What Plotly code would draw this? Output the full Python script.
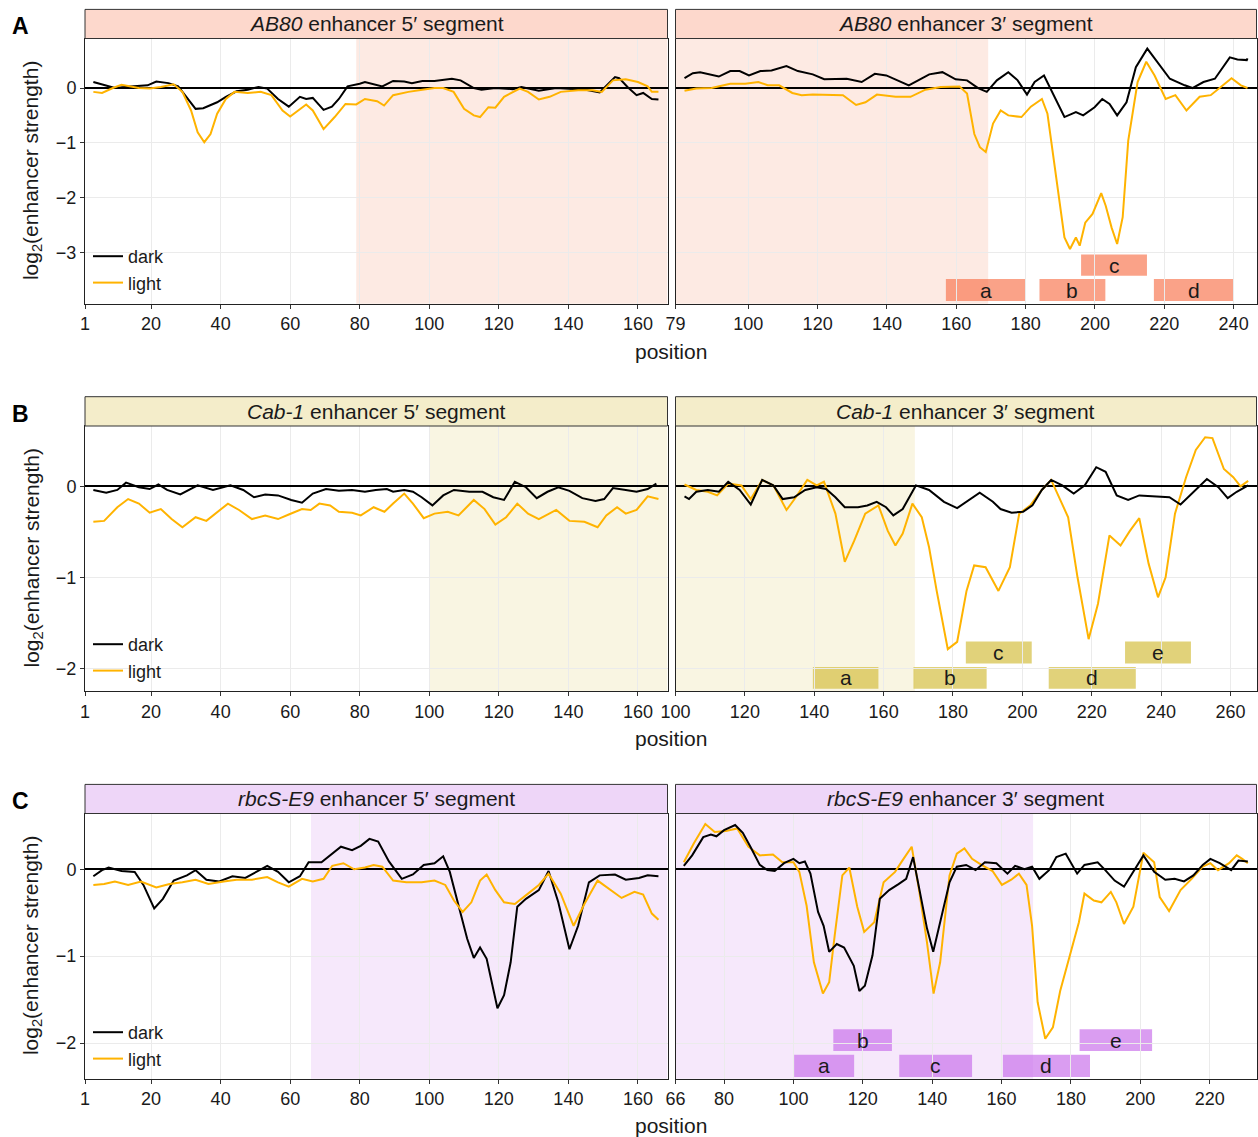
import plotly.graph_objects as go

FONT = "Liberation Sans, Arial, Helvetica, sans-serif"

# ---------------- DATA ----------------
# Panel A : AB80 enhancer
A5_dark_x = [3.4, 9.6, 14, 19, 21.5, 25, 27.8, 30, 32.8, 35, 39, 41.5, 44.6, 47.8, 50.9, 53.4, 56.5, 59.6, 62.8, 64.6, 66.5, 69.6, 72, 74, 76.5, 80, 81.5, 86.5, 89.6, 92.8, 95, 98, 101.5, 106.5, 109, 112.8, 115, 119, 124, 126.5, 131.5, 136.5, 141.5, 145, 149, 151.5, 153.4, 154.6, 157, 159.6, 161.5, 164, 165.9]
A5_dark_y = [0.11, 0.0, 0.03, 0.05, 0.12, 0.09, 0.03, -0.16, -0.38, -0.37, -0.26, -0.16, -0.06, -0.03, 0.02, -0.01, -0.2, -0.34, -0.16, -0.2, -0.18, -0.40, -0.34, -0.2, 0.03, 0.08, 0.11, 0.03, 0.13, 0.12, 0.09, 0.13, 0.13, 0.17, 0.14, 0.0, -0.03, 0.0, -0.02, 0.02, -0.05, 0.0, -0.02, -0.03, -0.08, 0.08, 0.2, 0.18, 0.02, -0.13, -0.09, -0.2, -0.21]
A5_light_x = [3.4, 5.9, 9, 11.5, 16.5, 19.6, 22.8, 26.5, 29, 31.5, 33.4, 35.3, 37.1, 39, 41.5, 44, 47.8, 51.5, 54.6, 57.8, 60, 62.8, 64.6, 66.5, 69.6, 72.8, 75.9, 79, 81.5, 85, 87, 89.6, 94, 98, 101.5, 104, 107, 110, 112.8, 114.6, 117, 119, 121.5, 126, 128.4, 131.5, 134.6, 137.8, 142.8, 147, 149.6, 152.8, 156.5, 160, 162.8, 164, 165.9]
A5_light_y = [-0.07, -0.09, 0.0, 0.06, 0.0, -0.01, 0.02, 0.07, -0.07, -0.41, -0.81, -0.99, -0.84, -0.47, -0.2, -0.07, -0.09, -0.07, -0.13, -0.41, -0.52, -0.38, -0.30, -0.41, -0.75, -0.53, -0.29, -0.3, -0.2, -0.24, -0.32, -0.13, -0.07, -0.03, 0.0, 0.0, -0.07, -0.38, -0.5, -0.53, -0.35, -0.36, -0.16, -0.01, -0.07, -0.21, -0.16, -0.07, -0.04, -0.04, -0.07, 0.14, 0.16, 0.11, 0.03, -0.07, -0.07]
A3_dark_x = [81.6, 84, 86.1, 88.3, 91.5, 94.8, 97.5, 100.2, 103.5, 106.7, 111, 114.3, 118.6, 121.9, 125.1, 128.4, 132.7, 136.5, 139.8, 142.5, 146.3, 149, 152.2, 156, 159.8, 163.1, 166.3, 168.8, 171.7, 175, 177.7, 180.4, 182.6, 185.3, 188, 191.2, 194.5, 196.6, 199.9, 202.1, 204.2, 206.4, 209.1, 211.8, 215.1, 218.3, 221.6, 225.9, 228.1, 231.3, 234.6, 238.9, 241.1, 243.8, 244]
A3_dark_y = [0.18, 0.27, 0.29, 0.26, 0.21, 0.31, 0.31, 0.23, 0.31, 0.32, 0.40, 0.31, 0.25, 0.16, 0.17, 0.17, 0.11, 0.26, 0.23, 0.15, 0.05, 0.14, 0.25, 0.29, 0.16, 0.14, 0.0, -0.07, 0.14, 0.29, 0.14, -0.12, 0.11, 0.23, -0.13, -0.53, -0.44, -0.5, -0.35, -0.2, -0.29, -0.5, -0.26, 0.38, 0.72, 0.45, 0.17, 0.05, 0.0, 0.11, 0.17, 0.56, 0.52, 0.51, 0.54]
A3_light_x = [81.6, 85, 89.4, 94.8, 99.1, 102.9, 105.6, 108.9, 112.7, 115.4, 118.6, 123, 127.3, 131.1, 133.8, 137.1, 142.5, 146.8, 151.1, 155.5, 160.9, 163.1, 165.2, 166.8, 168.5, 170.6, 172.8, 175, 178.8, 181.5, 184.7, 186.3, 188, 189.6, 191.2, 192.8, 194.5, 195.6, 197.2, 199.3, 201.8, 203.1, 204.8, 206.4, 208, 209.6, 212.3, 214.8, 217.2, 220.4, 223.2, 226.4, 230.2, 233.4, 236.7, 239.4, 242.1, 244]
A3_light_y = [-0.05, -0.01, 0.0, 0.08, 0.08, 0.11, 0.05, 0.05, -0.09, -0.13, -0.12, -0.13, -0.13, -0.31, -0.26, -0.12, -0.16, -0.16, -0.03, 0.02, 0.03, -0.1, -0.84, -1.08, -1.17, -0.65, -0.41, -0.5, -0.53, -0.34, -0.2, -0.47, -1.26, -2.06, -2.73, -2.94, -2.73, -2.88, -2.46, -2.3, -1.92, -2.15, -2.55, -2.85, -2.36, -0.96, 0.11, 0.48, 0.23, -0.2, -0.13, -0.41, -0.16, -0.13, 0.05, 0.18, 0.05, 0.0]
A_box_labels = ["a", "b", "c", "d"]
A_box_start = [157, 184, 196, 217]
A_box_end = [180, 203, 215, 240]
A_box_row = [0, 0, 1, 0]

# Panel B : Cab-1 enhancer
B5_dark_x = [3.4, 7.1, 10.3, 12.8, 16.5, 19.6, 22.1, 24.6, 28.4, 31.5, 33.4, 37.8, 42.8, 46.5, 49.6, 52.8, 56.5, 60.3, 63.4, 66.5, 70.3, 74, 77.8, 81.5, 84.6, 87.8, 89.6, 92.8, 95.3, 97.8, 100.9, 104, 107.1, 111.5, 115.3, 118.4, 121.5, 124.6, 127.8, 130.9, 134, 137.1, 140.3, 144, 147.8, 150.3, 152.8, 156.5, 159.6, 162.8, 165.3]
B5_dark_y = [-0.04, -0.07, -0.04, 0.04, -0.01, -0.03, 0.02, -0.04, -0.09, -0.03, 0.01, -0.04, 0.01, -0.04, -0.12, -0.09, -0.1, -0.15, -0.18, -0.08, -0.03, -0.05, -0.04, -0.06, -0.04, -0.03, -0.06, -0.04, -0.06, -0.12, -0.21, -0.1, -0.04, -0.06, -0.06, -0.12, -0.15, 0.05, -0.01, -0.13, -0.06, -0.01, -0.05, -0.13, -0.16, -0.14, -0.02, -0.04, -0.06, -0.03, 0.03]
B5_light_x = [3.4, 6.5, 10.3, 13.4, 16.5, 19.6, 22.8, 25.9, 29, 32.8, 35.9, 39, 42.1, 45.3, 49, 52.8, 56.5, 59.6, 63.4, 65.9, 68.4, 71.5, 74, 77.8, 80.3, 84, 87.1, 89.6, 92.8, 95.3, 98.4, 101.5, 105.3, 108.4, 112.8, 115.9, 119, 122.1, 125.3, 128.4, 131.5, 136.5, 140.3, 144.6, 148.4, 150.9, 154, 156.5, 159.6, 162.8, 165.9]
B5_light_y = [-0.39, -0.38, -0.23, -0.14, -0.19, -0.29, -0.25, -0.36, -0.45, -0.34, -0.38, -0.28, -0.19, -0.26, -0.36, -0.32, -0.36, -0.31, -0.25, -0.26, -0.19, -0.21, -0.28, -0.29, -0.32, -0.23, -0.28, -0.19, -0.08, -0.19, -0.35, -0.3, -0.28, -0.32, -0.15, -0.25, -0.42, -0.34, -0.19, -0.3, -0.36, -0.26, -0.38, -0.39, -0.45, -0.32, -0.23, -0.3, -0.26, -0.11, -0.14]
B3_dark_x = [102.6, 103.9, 106, 109.3, 112.5, 115.2, 118.5, 121.7, 125, 128.2, 130.9, 134.2, 137.4, 140.7, 143.4, 146.1, 148.8, 152.6, 155.3, 158, 160.7, 162.8, 165.5, 169.3, 173.1, 177.4, 181.2, 184.5, 187.7, 191.5, 193.7, 196.9, 200.2, 202.9, 205.6, 208.3, 211.5, 214.8, 218, 221.3, 224, 227.2, 230.5, 233.7, 238, 242.4, 245.6, 248.9, 253.2, 256.5, 259.2, 261.8, 265.1]
B3_dark_y = [-0.11, -0.14, -0.06, -0.04, -0.06, 0.05, -0.04, -0.2, 0.07, 0.01, -0.14, -0.12, -0.04, -0.01, -0.03, -0.12, -0.23, -0.23, -0.21, -0.17, -0.23, -0.32, -0.25, 0.01, -0.04, -0.17, -0.24, -0.15, -0.07, -0.17, -0.25, -0.29, -0.28, -0.21, -0.04, 0.07, 0.01, -0.08, 0.01, 0.21, 0.16, -0.1, -0.15, -0.1, -0.11, -0.12, -0.2, -0.08, 0.08, -0.01, -0.13, -0.06, 0.01]
B3_light_x = [102.6, 106, 109.3, 112, 115.2, 119, 121.7, 125, 128.2, 132, 134.7, 138, 140.7, 142.8, 146.1, 148.8, 151.5, 154.7, 158.5, 161.2, 163.4, 165.5, 168.3, 171, 173.1, 175.3, 178.5, 181.2, 183.9, 186.1, 189.4, 193.1, 196.4, 199.1, 202.3, 205.6, 208.3, 211, 213.2, 215.9, 219.1, 221.8, 225.1, 228.3, 231, 233.7, 236.4, 239.1, 241.3, 244, 247.2, 250, 252.7, 254.8, 258.1, 260.8, 262.9, 265.1]
B3_light_y = [0.02, -0.04, -0.06, -0.1, 0.03, 0.01, -0.14, 0.07, 0.01, -0.26, -0.12, 0.07, 0.01, 0.05, -0.3, -0.83, -0.6, -0.3, -0.21, -0.49, -0.65, -0.52, -0.19, -0.34, -0.67, -1.15, -1.79, -1.71, -1.15, -0.87, -0.89, -1.15, -0.89, -0.3, -0.21, -0.04, 0.07, -0.15, -0.34, -1.0, -1.68, -1.29, -0.54, -0.65, -0.49, -0.35, -0.85, -1.22, -1.0, -0.3, 0.10, 0.4, 0.54, 0.53, 0.19, 0.10, 0.0, 0.06]
B_box_labels = ["a", "b", "c", "d", "e"]
B_box_start = [139.6, 168.6, 183.7, 207.6, 229.6]
B_box_end = [158.5, 189.7, 202.7, 232.7, 248.6]
B_box_row = [0, 0, 1, 0, 1]

# Panel C : rbcS-E9 enhancer
C5_dark_x = [3.4, 5.9, 7.8, 11.5, 15.3, 17.8, 20.9, 23.4, 26.5, 30.3, 32.8, 35.9, 39.6, 43.4, 47.1, 50.9, 53.4, 56.5, 59.6, 62.8, 65.3, 69, 71.5, 74.6, 77.8, 80.3, 82.8, 85.3, 88.4, 92.1, 95.3, 98.4, 101.5, 104, 105.9, 108.4, 110.9, 112.8, 114.6, 116.5, 118.4, 119.6, 121.5, 123.4, 125.3, 127.8, 131.5, 134.3, 137.1, 140.3, 142.8, 145.9, 149, 153.4, 156.5, 160.3, 162.8, 165.9]
C5_dark_y = [-0.08, -0.01, 0.02, -0.02, -0.03, -0.18, -0.45, -0.34, -0.13, -0.07, -0.01, -0.12, -0.14, -0.08, -0.1, -0.01, 0.04, -0.03, -0.15, -0.08, 0.08, 0.08, 0.16, 0.26, 0.22, 0.27, 0.35, 0.32, 0.09, -0.11, -0.06, 0.05, 0.07, 0.15, -0.03, -0.43, -0.8, -1.02, -0.9, -1.03, -1.38, -1.6, -1.45, -1.07, -0.43, -0.34, -0.24, -0.02, -0.38, -0.92, -0.65, -0.15, -0.07, -0.06, -0.12, -0.1, -0.07, -0.08]
C5_light_x = [3.4, 6.5, 9.6, 13.4, 17.1, 21.5, 25.3, 29, 32.8, 36.5, 40.9, 44.6, 49, 53.4, 56.5, 59.6, 63.4, 66.5, 69.6, 72.1, 75.3, 78.4, 81.5, 84, 86.5, 89.6, 93.4, 97.8, 101.5, 104.6, 107.1, 109.6, 112.1, 114.6, 116.5, 119, 121.5, 124.6, 128.4, 131.5, 134.3, 137.8, 141.5, 144.6, 148.4, 152.1, 155.3, 159, 161.5, 164, 165.9]
C5_light_y = [-0.18, -0.17, -0.14, -0.18, -0.14, -0.21, -0.17, -0.15, -0.12, -0.17, -0.14, -0.12, -0.12, -0.09, -0.15, -0.2, -0.11, -0.14, -0.11, 0.04, 0.07, 0.0, 0.02, 0.05, 0.03, -0.13, -0.15, -0.15, -0.13, -0.18, -0.36, -0.49, -0.38, -0.13, -0.06, -0.24, -0.38, -0.4, -0.28, -0.18, -0.05, -0.28, -0.65, -0.4, -0.13, -0.24, -0.33, -0.26, -0.29, -0.51, -0.58]
C3_dark_x = [68.4, 70.8, 74, 76.2, 77.8, 80, 83.2, 85.4, 87.6, 90.3, 92.5, 94.6, 97.3, 100, 101.7, 103.3, 104.9, 107.1, 108.7, 110.3, 112.5, 114.6, 117.4, 119, 120.6, 122.8, 124.9, 127.6, 130.3, 132.5, 134.5, 136.3, 138.5, 140.3, 142.3, 145, 147.1, 149.8, 152.5, 155.2, 158.5, 161.7, 163.9, 166.6, 168.8, 170.9, 173.7, 175.8, 178.5, 181.8, 183.9, 187.7, 189.9, 192.6, 195.3, 198, 200.9, 204, 207.2, 209.9, 212.6, 215.3, 218, 220.2, 222.9, 226.2, 228.3, 231]
C3_dark_y = [0.04, 0.16, 0.37, 0.4, 0.38, 0.45, 0.51, 0.42, 0.26, 0.05, -0.01, -0.02, 0.07, 0.12, 0.07, 0.09, -0.05, -0.49, -0.65, -0.95, -0.86, -0.9, -1.11, -1.4, -1.34, -0.99, -0.34, -0.24, -0.17, -0.11, 0.14, -0.22, -0.68, -0.95, -0.61, -0.15, 0.03, 0.05, -0.01, 0.08, 0.07, -0.05, 0.04, 0.0, 0.03, -0.11, -0.01, 0.14, 0.18, -0.05, 0.05, 0.08, -0.01, -0.13, -0.2, -0.03, 0.16, -0.03, -0.12, -0.11, -0.14, -0.07, 0.05, 0.12, 0.07, -0.01, 0.1, 0.09]
C3_light_x = [68.4, 71.3, 74.6, 77.3, 80.5, 83.8, 87, 90.3, 94.1, 96.8, 100, 101.7, 103.8, 105.9, 108.5, 110.3, 111.9, 114.1, 116.1, 118.4, 120.4, 123.3, 126, 129.3, 131.4, 134.1, 136.3, 138.5, 140.4, 142.3, 145, 147.1, 149.3, 151.5, 154.2, 157.4, 160.1, 162.8, 165, 167.2, 168.8, 170.4, 172.6, 174.8, 176.9, 179.1, 180.7, 182.3, 183.9, 186.6, 188.8, 191.5, 193.1, 195.3, 198, 200.9, 204, 205.6, 208.3, 211.6, 214.8, 218, 220.2, 222.4, 225.6, 227.8, 229.4, 231]
C3_light_y = [0.08, 0.3, 0.52, 0.43, 0.44, 0.47, 0.26, 0.16, 0.17, 0.08, 0.08, -0.03, -0.42, -1.07, -1.43, -1.3, -0.76, -0.07, 0.02, -0.43, -0.72, -0.61, -0.15, -0.03, 0.1, 0.26, -0.26, -0.84, -1.43, -1.07, -0.07, 0.18, 0.24, 0.12, 0.05, -0.02, -0.18, -0.12, -0.05, -0.18, -0.65, -1.53, -1.95, -1.82, -1.4, -1.07, -0.84, -0.61, -0.28, -0.36, -0.38, -0.26, -0.38, -0.63, -0.43, 0.19, 0.08, -0.32, -0.48, -0.24, -0.11, 0.03, 0.07, -0.01, 0.07, 0.16, 0.12, 0.07]
C_box_labels = ["a", "b", "c", "d", "e"]
C_box_start = [100.2, 111.5, 130.5, 160.4, 182.5]
C_box_end = [117.5, 128.4, 151.5, 185.5, 203.4]
C_box_row = [0, 1, 0, 0, 1]

# Axis ticks
left_ticks = [1, 20, 40, 60, 80, 100, 120, 140, 160]
A3_ticks = [79, 100, 120, 140, 160, 180, 200, 220, 240]
B3_ticks = [100, 120, 140, 160, 180, 200, 220, 240, 260]
C3_ticks = [66, 80, 100, 120, 140, 160, 180, 200, 220]
A_yticks = [0, -1, -2, -3]
B_yticks = [0, -1, -2]
C_yticks = [0, -1, -2]

# ---------------- STYLE / LAYOUT ----------------
W, H = 1258, 1137
DARK = "#000000"
LIGHT = "#FFB300"
TXT = "#1a1a1a"


def px_x(p):
    return p / W


def px_y(p):
    return 1 - p / H


XL = [px_x(85), px_x(667.5)]
XR = [px_x(675.5), px_x(1256.5)]

panels = [
    dict(name="A", gene="AB80", top=38.5, bot=303.7, htop=9.4, yr=[-3.94, 0.905], ytk=A_yticks,
         r5=[1, 168.5], r3=[79, 246.6], t3=A3_ticks, sh5=[79, 168.5], sh3=[79, 169.2],
         head="#FDD8CC", shade="#FDEAE3", box="rgba(247,118,80,0.68)",
         d5=(A5_dark_x, A5_dark_y), l5=(A5_light_x, A5_light_y),
         d3=(A3_dark_x, A3_dark_y), l3=(A3_light_x, A3_light_y),
         bl=A_box_labels, bs=A_box_start, be=A_box_end, brow=A_box_row,
         rows=[(-3.89, -3.49), (-3.43, -3.04)], pos_y=351, leg_y=238),
    dict(name="B", gene="Cab-1", top=426, bot=691, htop=396.7, yr=[-2.25, 0.663], ytk=B_yticks,
         r5=[1, 168.5], r3=[100, 267.5], t3=B3_ticks, sh5=[100, 168.5], sh3=[100, 169],
         head="#F4EDCA", shade="#F9F5E2", box="rgba(214,192,70,0.72)",
         d5=(B5_dark_x, B5_dark_y), l5=(B5_light_x, B5_light_y),
         d3=(B3_dark_x, B3_dark_y), l3=(B3_light_x, B3_light_y),
         bl=B_box_labels, bs=B_box_start, be=B_box_end, brow=B_box_row,
         rows=[(-2.224, -1.985), (-1.949, -1.706)], pos_y=739, leg_y=626),
    dict(name="C", gene="rbcS-E9", top=813.5, bot=1078.7, htop=784.4, yr=[-2.41, 0.642], ytk=C_yticks,
         r5=[1, 168.5], r3=[66, 233.5], t3=C3_ticks, sh5=[66, 168.5], sh3=[66, 169.1],
         head="#EED6F8", shade="#F6E8FB", box="rgba(200,110,235,0.68)",
         d5=(C5_dark_x, C5_dark_y), l5=(C5_light_x, C5_light_y),
         d3=(C3_dark_x, C3_dark_y), l3=(C3_light_x, C3_light_y),
         bl=C_box_labels, bs=C_box_start, be=C_box_end, brow=C_box_row,
         rows=[(-2.39, -2.135), (-2.09, -1.84)], pos_y=1125, leg_y=1014),
]

fig = go.Figure()
shapes = []
annotations = []
layout = dict(
    width=W, height=H, margin=dict(l=0, r=0, t=0, b=0, autoexpand=False),
    paper_bgcolor="white", plot_bgcolor="white",
    font=dict(family=FONT, size=18, color=TXT),
    showlegend=True,
)

axis_common = dict(
    showline=True, linecolor="#222", linewidth=1, mirror=True,
    showgrid=True, gridcolor="#EBEBEB", gridwidth=1,
    ticks="outside", ticklen=4, tickcolor="#333", tickwidth=1,
    zeroline=False, tickfont=dict(size=18, family=FONT, color=TXT),
    fixedrange=True, automargin=False,
)
yzero = dict(zeroline=True, zerolinecolor="black", zerolinewidth=1.7)

legend_names = ["legend", "legend2", "legend3"]

for i, p in enumerate(panels):
    xa5 = 2 * i + 1
    xa3 = 2 * i + 2
    ydom = [px_y(p["bot"]), px_y(p["top"])]
    xk5 = "xaxis" if xa5 == 1 else f"xaxis{xa5}"
    yk5 = "yaxis" if xa5 == 1 else f"yaxis{xa5}"
    xk3 = f"xaxis{xa3}"
    yk3 = f"yaxis{xa3}"
    xr5 = "x" if xa5 == 1 else f"x{xa5}"
    yr5 = "y" if xa5 == 1 else f"y{xa5}"
    xr3 = f"x{xa3}"
    yr3 = f"y{xa3}"

    layout[xk5] = dict(axis_common, domain=XL, range=p["r5"], tickvals=left_ticks, anchor=yr5)
    layout[yk5] = dict(axis_common, **yzero, domain=ydom, range=p["yr"], tickvals=p["ytk"], anchor=xr5)
    layout[xk3] = dict(axis_common, domain=XR, range=p["r3"], tickvals=p["t3"], anchor=yr3)
    layout[yk3] = dict(axis_common, **yzero, domain=ydom, range=p["yr"], tickvals=p["ytk"], anchor=xr3,
                       showticklabels=False, ticks="")

    # shaded overlap regions
    for xr, yr, sh in ((xr5, yr5, p["sh5"]), (xr3, yr3, p["sh3"])):
        shapes.append(dict(type="rect", xref=xr, yref=f"{yr} domain", x0=sh[0], x1=sh[1], y0=0, y1=1,
                           fillcolor=p["shade"], line=dict(width=0), layer="below"))

    # header strips
    for dom, label in ((XL, "5′"), (XR, "3′")):
        shapes.append(dict(type="rect", xref="paper", yref="paper", x0=dom[0], x1=dom[1],
                           y0=px_y(p["top"]), y1=px_y(p["htop"]), fillcolor=p["head"],
                           line=dict(color="#333", width=1), layer="above"))
        annotations.append(dict(xref="paper", yref="paper", x=(dom[0] + dom[1]) / 2,
                                y=px_y((p["top"] + p["htop"]) / 2), showarrow=False,
                                text=f"<i>{p['gene']}</i> enhancer {label} segment",
                                font=dict(size=21, family=FONT, color=TXT),
                                xanchor="center", yanchor="middle"))

    # boxes
    for lab, s, e, r in zip(p["bl"], p["bs"], p["be"], p["brow"]):
        y0, y1 = p["rows"][r]
        shapes.append(dict(type="rect", xref=xr3, yref=yr3, x0=s, x1=e, y0=y0, y1=y1,
                           fillcolor=p["box"], line=dict(width=0), layer="below"))
        annotations.append(dict(xref=xr3, yref=yr3, x=(s + e) / 2, y=(y0 + y1) / 2, text=lab,
                                showarrow=False, font=dict(size=21, family=FONT, color=TXT),
                                xanchor="center", yanchor="middle"))

    # traces
    lg = legend_names[i]
    fig.add_trace(go.Scatter(x=p["d5"][0], y=p["d5"][1], mode="lines", name="dark",
                             line=dict(color=DARK, width=2), xaxis=xr5, yaxis=yr5,
                             legend=lg, showlegend=True, hoverinfo="skip"))
    fig.add_trace(go.Scatter(x=p["l5"][0], y=p["l5"][1], mode="lines", name="light",
                             line=dict(color=LIGHT, width=2), xaxis=xr5, yaxis=yr5,
                             legend=lg, showlegend=True, hoverinfo="skip"))
    fig.add_trace(go.Scatter(x=p["l3"][0], y=p["l3"][1], mode="lines", name="light",
                             line=dict(color=LIGHT, width=2), xaxis=xr3, yaxis=yr3,
                             legend=lg, showlegend=False, hoverinfo="skip"))
    fig.add_trace(go.Scatter(x=p["d3"][0], y=p["d3"][1], mode="lines", name="dark",
                             line=dict(color=DARK, width=2), xaxis=xr3, yaxis=yr3,
                             legend=lg, showlegend=False, hoverinfo="skip"))

    layout[lg] = dict(x=px_x(88), y=px_y(p["leg_y"]), xanchor="left", yanchor="top",
                      bgcolor="rgba(0,0,0,0)", borderwidth=0, font=dict(size=18, family=FONT, color=TXT),
                      itemwidth=30, tracegroupgap=0, traceorder="normal")

    annotations.append(dict(xref="paper", yref="paper", x=px_x(32), y=px_y((p["top"] + p["bot"]) / 2),
                            text="log<sub>2</sub>(enhancer strength)", textangle=-90, showarrow=False,
                            font=dict(size=21, family=FONT, color=TXT), xanchor="center", yanchor="middle"))
    annotations.append(dict(xref="paper", yref="paper", x=px_x(20), y=px_y(p["htop"] + 17),
                            text=f"<b>{p['name']}</b>", showarrow=False,
                            font=dict(size=23, family=FONT, color="black"), xanchor="center", yanchor="middle"))
    annotations.append(dict(xref="paper", yref="paper", x=px_x(671), y=px_y(p["pos_y"]),
                            text="position", showarrow=False,
                            font=dict(size=21, family=FONT, color=TXT), xanchor="center", yanchor="middle"))

layout["shapes"] = shapes
layout["annotations"] = annotations
fig.update_layout(**layout)
fig.write_html("out.html", config={"displayModeBar": False},
               post_script="document.body.style.margin='0';document.body.style.overflow='hidden';")
